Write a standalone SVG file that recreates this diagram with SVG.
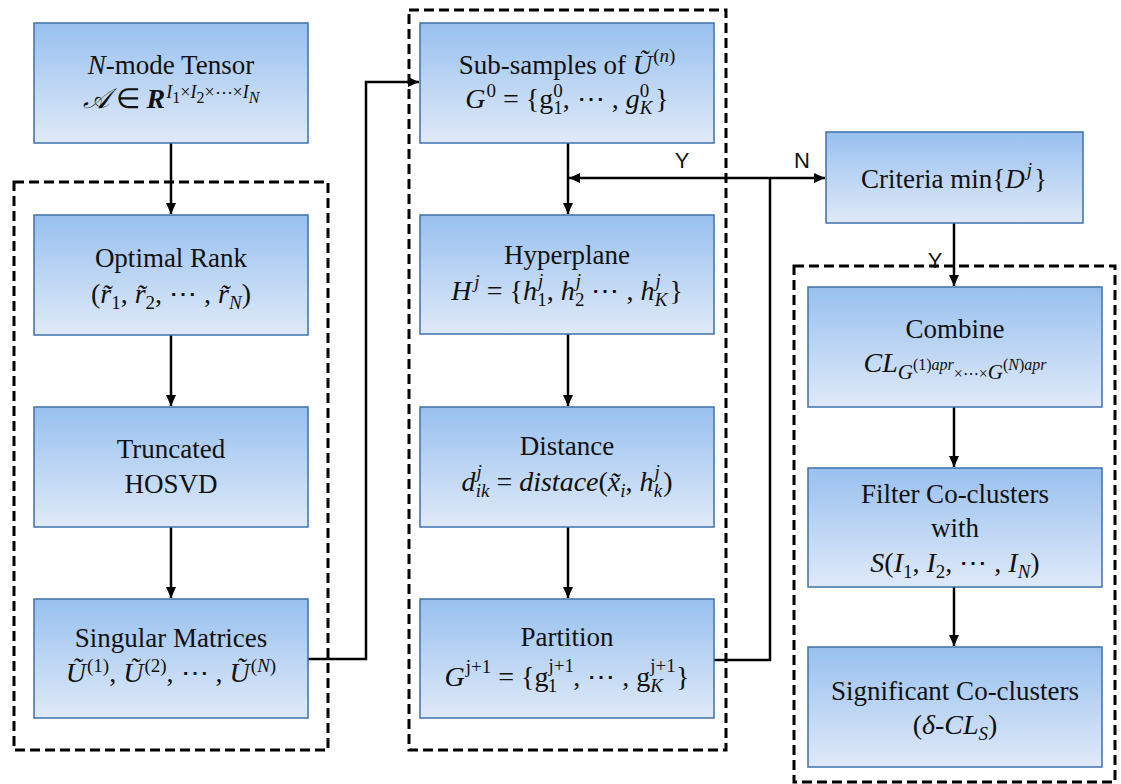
<svg xmlns="http://www.w3.org/2000/svg" width="1121" height="784" viewBox="0 0 1121 784" font-family="Liberation Serif, serif">
<style>
.box{fill:url(#g);stroke:#3f70ad;stroke-width:1.5}
.dash{fill:none;stroke:#000;stroke-width:3;stroke-dasharray:10 5}
.con{fill:none;stroke:#000;stroke-width:2.5}
.t{font-family:'Liberation Serif',serif;font-size:27px;fill:#111;text-anchor:middle}
.m{font-family:'Liberation Serif',serif;font-size:28px;fill:#111;text-anchor:middle}
.i{font-style:italic}
.s{font-size:19px}
.ss{font-size:16px}
.lab{font-family:'Liberation Sans',sans-serif;font-size:22px;fill:#111;text-anchor:middle}
</style>
<defs>
<linearGradient id="g" x1="0" y1="0" x2="0" y2="1">
<stop offset="0" stop-color="#98c0ef"/>
<stop offset="1" stop-color="#dfeaf8"/>
</linearGradient>
<marker id="ah" markerWidth="12" markerHeight="12" refX="11" refY="6" orient="auto" markerUnits="userSpaceOnUse">
<path d="M0,1 L11,6 L0,11 z" fill="#000"/>
</marker>
</defs>

<g id="groups">
<rect class="dash" x="14" y="182" width="314" height="568"/>
<rect class="dash" x="409" y="10" width="317" height="740"/>
<rect class="dash" x="794" y="266" width="321" height="516"/>
</g>

<g id="connectors">
<line class="con" x1="171" y1="143" x2="171" y2="214" marker-end="url(#ah)"/>
<line class="con" x1="171" y1="335" x2="171" y2="406" marker-end="url(#ah)"/>
<line class="con" x1="171" y1="527" x2="171" y2="598" marker-end="url(#ah)"/>
<polyline class="con" points="308,659 366,659 366,82 419,82" marker-end="url(#ah)"/>
<line class="con" x1="568" y1="143" x2="568" y2="214" marker-end="url(#ah)"/>
<line class="con" x1="568" y1="334" x2="568" y2="406" marker-end="url(#ah)"/>
<line class="con" x1="568" y1="527" x2="568" y2="598" marker-end="url(#ah)"/>
<polyline class="con" points="714,660 770,660 770,178"/>
<line class="con" x1="770" y1="178" x2="569" y2="178" marker-end="url(#ah)"/>
<line class="con" x1="770" y1="178" x2="825" y2="178" marker-end="url(#ah)"/>
<line class="con" x1="954" y1="223" x2="954" y2="286" marker-end="url(#ah)"/>
<line class="con" x1="954" y1="407" x2="954" y2="467" marker-end="url(#ah)"/>
<line class="con" x1="954" y1="587" x2="954" y2="646" marker-end="url(#ah)"/>
<text class="lab" x="682" y="168">Y</text>
<text class="lab" x="802" y="168">N</text>
<text class="lab" x="935" y="268">Y</text>
</g>

<g id="tensor">
<rect class="box" x="34" y="23" width="274" height="120"/>
<text class="t" x="171" y="74"><tspan class="i">N</tspan>-mode Tensor</text>
<text class="m" x="171" y="108"><tspan class="i">𝒜</tspan> ∈ <tspan class="i" font-weight="bold">R</tspan><tspan class="i" font-size="18" dx="1" dy="-10">I</tspan><tspan class="ss" dy="5">1</tspan><tspan font-size="18" dy="-5">×</tspan><tspan class="i" font-size="18">I</tspan><tspan class="ss" dy="5">2</tspan><tspan font-size="18" dy="-5">×⋯×</tspan><tspan class="i" font-size="18">I</tspan><tspan class="i ss" dy="5">N</tspan></text>
</g>

<g id="rank">
<rect class="box" x="34" y="215" width="274" height="120"/>
<text class="t" x="171" y="267">Optimal Rank</text>
<text class="m" x="171" y="303">(<tspan class="i">r̃</tspan><tspan class="s" dy="6">1</tspan><tspan dy="-6">, </tspan><tspan class="i">r̃</tspan><tspan class="s" dy="6">2</tspan><tspan dy="-6">, ⋯ , </tspan><tspan class="i">r̃</tspan><tspan class="s i" dy="6">N</tspan><tspan dy="-6">)</tspan></text>
</g>

<g id="hosvd">
<rect class="box" x="34" y="407" width="274" height="120"/>
<text class="t" x="171" y="458">Truncated</text>
<text class="t" x="171" y="493">HOSVD</text>
</g>

<g id="singular">
<rect class="box" x="34" y="599" width="274" height="119"/>
<text class="t" x="171" y="647">Singular Matrices</text>
<text class="m" x="171" y="682"><tspan class="i">Ũ</tspan><tspan class="s" dx="1" dy="-10">(1)</tspan><tspan dy="10">, </tspan><tspan class="i">Ũ</tspan><tspan class="s" dx="1" dy="-10">(2)</tspan><tspan dy="10">, ⋯ , </tspan><tspan class="i">Ũ</tspan><tspan class="s" dx="1" dy="-10">(<tspan class="i">N</tspan>)</tspan></text>
</g>

<g id="subsamples">
<rect class="box" x="420" y="23" width="294" height="120"/>
<text class="t" x="567" y="74">Sub-samples of <tspan class="i">Ũ</tspan><tspan class="s" dx="1" dy="-12">(<tspan class="i">n</tspan>)</tspan></text>
<text class="m" x="567" y="108"><tspan class="i">G</tspan><tspan class="s" dx="1" dy="-11">0</tspan><tspan dy="11"> = {g</tspan><tspan class="s" dy="-11">0</tspan><tspan class="s" dx="-9.5" dy="17">1</tspan><tspan dy="-6">, ⋯ , </tspan><tspan class="i">g</tspan><tspan class="s" dy="-11">0</tspan><tspan class="s i" dx="-9.5" dy="17">K</tspan><tspan dx="3" dy="-6">}</tspan></text>
</g>

<g id="hyperplane">
<rect class="box" x="420" y="215" width="294" height="119"/>
<text class="t" x="567" y="264">Hyperplane</text>
<text class="m" x="567" y="300"><tspan class="i">H</tspan><tspan class="s i" dx="3" dy="-12">j</tspan><tspan dy="12"> = {</tspan><tspan class="i">h</tspan><tspan class="s i" dx="1" dy="-13">j</tspan><tspan class="s" dx="-6" dy="19">1</tspan><tspan dy="-6">, </tspan><tspan class="i">h</tspan><tspan class="s i" dx="1" dy="-13">j</tspan><tspan class="s" dx="-6" dy="19">2</tspan><tspan dy="-6"> ⋯ , </tspan><tspan class="i">h</tspan><tspan class="s i" dx="1" dy="-13">j</tspan><tspan class="s i" dx="-6" dy="19">K</tspan><tspan dx="2" dy="-6">}</tspan></text>
</g>

<g id="distance">
<rect class="box" x="420" y="407" width="294" height="120"/>
<text class="t" x="567" y="455">Distance</text>
<text class="m" x="567" y="491"><tspan class="i">d</tspan><tspan class="s i" dx="1" dy="-13">j</tspan><tspan class="s i" dx="-6" dy="19">ik</tspan><tspan dy="-6"> = </tspan><tspan class="i">distace</tspan>(<tspan class="i">x̃</tspan><tspan class="s i" dy="6">i</tspan><tspan dy="-6">, </tspan><tspan class="i">h</tspan><tspan class="s i" dx="1" dy="-13">j</tspan><tspan class="s i" dx="-6" dy="19">k</tspan><tspan dx="1" dy="-6">)</tspan></text>
</g>

<g id="partition">
<rect class="box" x="420" y="599" width="294" height="119"/>
<text class="t" x="567" y="646">Partition</text>
<text class="m" x="567" y="686"><tspan class="i">G</tspan><tspan class="s" dx="1" dy="-13">j+1</tspan><tspan dy="13"> = {g</tspan><tspan class="s" dy="-14">j+1</tspan><tspan class="s" dx="-25.5" dy="20">1</tspan><tspan dx="16" dy="-6">, ⋯ , g</tspan><tspan class="s" dy="-14">j+1</tspan><tspan class="s i" dx="-25.5" dy="20">K</tspan><tspan dx="13" dy="-6">}</tspan></text>
</g>

<g id="criteria">
<rect class="box" x="826" y="132" width="257" height="91"/>
<text class="t" x="954" y="188">Criteria min{<tspan class="i">D</tspan><tspan class="s i" dx="2" dy="-12">j</tspan><tspan dx="2" dy="12">}</tspan></text>
</g>

<g id="combine">
<rect class="box" x="808" y="287" width="294" height="120"/>
<text class="t" x="955" y="338">Combine</text>
<text class="m" x="955" y="372"><tspan class="i">CL</tspan><tspan class="i" font-size="21" dy="7">G</tspan><tspan class="ss" dy="-9">(1)</tspan><tspan class="ss i">apr</tspan><tspan class="ss" dy="9">×⋯×</tspan><tspan class="i" font-size="21">G</tspan><tspan class="ss" dy="-9">(<tspan class="i">N</tspan>)</tspan><tspan class="ss i">apr</tspan></text>
</g>

<g id="filter">
<rect class="box" x="808" y="468" width="294" height="119"/>
<text class="t" x="955" y="503">Filter Co-clusters</text>
<text class="t" x="955" y="537">with</text>
<text class="m" x="955" y="572"><tspan class="i">S</tspan>(<tspan class="i">I</tspan><tspan class="s" dy="6">1</tspan><tspan dy="-6">, </tspan><tspan class="i">I</tspan><tspan class="s" dy="6">2</tspan><tspan dy="-6">, ⋯ , </tspan><tspan class="i">I</tspan><tspan class="s i" dy="6">N</tspan><tspan dy="-6">)</tspan></text>
</g>

<g id="significant">
<rect class="box" x="808" y="647" width="294" height="120"/>
<text class="t" x="955" y="700">Significant Co-clusters</text>
<text class="m" x="955" y="734">(<tspan class="i">δ</tspan>-<tspan class="i">CL</tspan><tspan class="s i" dy="6">S</tspan><tspan dy="-6">)</tspan></text>
</g>
</svg>
